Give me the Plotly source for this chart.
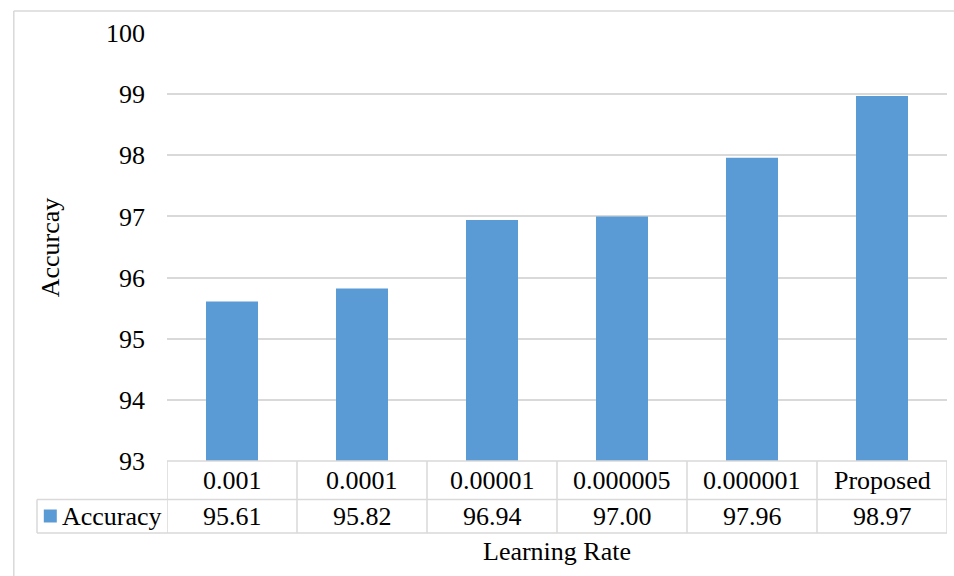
import plotly.graph_objects as go

categories = ["0.001", "0.0001", "0.00001", "0.000005", "0.000001", "Proposed"]
accuracy = [95.61, 95.82, 96.94, 97.00, 97.96, 98.97]
value_labels = ["95.61", "95.82", "96.94", "97.00", "97.96", "98.97"]
series_name = "Accuracy"

W, H = 954, 576
L, R, T, B = 166.7, 7.3, 33, 115
PW = W - L - R
PH = H - T - B

def py(pix):  # pixel y -> paper y
    return (H - B - pix) / PH

def px(pix):  # pixel x -> paper x
    return (pix - L) / PW

BAR = "#5B9BD5"
GRID = "#D9D9D9"
FONT = "Liberation Serif"
FS = 26

idx = list(range(len(categories)))
fig = go.Figure(go.Bar(x=idx, y=accuracy, width=0.4, marker=dict(color=BAR, line=dict(width=0)),
                       name=series_name, showlegend=False, hoverinfo="skip"))

row1 = py(499.5)
row2 = py(533)
shapes = []
shapes.append(dict(type="line", xref="x", yref="paper", x0=-0.5, x1=len(categories) - 0.5, y0=0, y1=0,
                   line=dict(color=GRID, width=1.5)))
for yy in (row1, row2):
    shapes.append(dict(type="line", xref="paper", yref="paper", x0=px(36.7), x1=1, y0=yy, y1=yy,
                       line=dict(color=GRID, width=1.5)))
for k in range(len(categories) + 1):
    shapes.append(dict(type="line", xref="x", yref="paper", x0=k - 0.5, x1=k - 0.5, y0=0, y1=row2,
                       line=dict(color=GRID, width=1.5)))
shapes.append(dict(type="line", xref="paper", yref="paper", x0=px(36.7), x1=px(36.7), y0=row1, y1=row2,
                   line=dict(color=GRID, width=1.5)))
shapes.append(dict(type="rect", xref="paper", yref="paper", x0=px(43.5), x1=px(56.5), y0=py(522.5), y1=py(509.5),
                   fillcolor=BAR, line=dict(width=0)))
shapes.append(dict(type="line", xref="paper", yref="paper", x0=px(13.5), x1=px(13.5), y0=py(11), y1=py(576),
                   line=dict(color=GRID, width=1.5)))
shapes.append(dict(type="line", xref="paper", yref="paper", x0=px(13.5), x1=px(954), y0=py(11), y1=py(11),
                   line=dict(color=GRID, width=1.5)))

tf = dict(family=FONT, size=FS, color="#000")
annotations = []
for k, (c, v) in enumerate(zip(categories, value_labels)):
    annotations.append(dict(x=k, y=py(480.5), xref="x", yref="paper", text=c, showarrow=False,
                            font=tf, xanchor="center", yanchor="middle"))
    annotations.append(dict(x=k, y=py(516.5), xref="x", yref="paper", text=v, showarrow=False,
                            font=tf, xanchor="center", yanchor="middle"))
annotations.append(dict(x=px(60), y=py(516.5), xref="paper", yref="paper", text=series_name, showarrow=False,
                        font=tf, xanchor="left", yanchor="middle"))
annotations.append(dict(x=(len(categories) - 1) / 2, y=py(551), xref="x", yref="paper", text="Learning Rate",
                        showarrow=False, font=tf, xanchor="center", yanchor="middle"))
annotations.append(dict(x=px(50), y=py(247), xref="paper", yref="paper", text="Accurcay", textangle=-90,
                        showarrow=False, font=tf, xanchor="center", yanchor="middle"))

fig.update_layout(
    width=W, height=H,
    margin=dict(l=L, r=R, t=T, b=B, autoexpand=False),
    paper_bgcolor="white", plot_bgcolor="white",
    font=dict(family=FONT),
    shapes=shapes, annotations=annotations,
    xaxis=dict(range=[-0.5, len(categories) - 0.5], showticklabels=False, showgrid=False,
               zeroline=False, showline=False, ticks=""),
    yaxis=dict(range=[93, 100], dtick=1, showgrid=True, gridcolor=GRID, gridwidth=1.5, zeroline=False,
               showline=False, ticks="", ticklabelstandoff=21, tickfont=tf),
    bargap=0.6,
)

fig.write_html("out.html", config={"displayModeBar": False},
               post_script="document.body.style.margin='0';document.body.style.padding='0';")
